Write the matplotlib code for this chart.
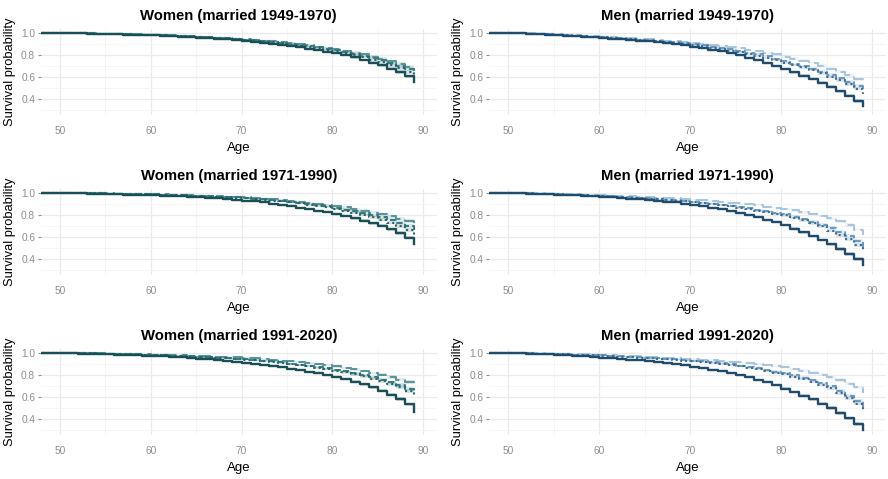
import numpy as np
import matplotlib.pyplot as plt

plt.rcParams['font.family'] = ['Liberation Sans', 'DejaVu Sans']

ages = list(range(48, 90))

# women, married 1949-1970
w1_solid = [1.000,.999,.998,.997,.995,.993,.991,.989,.987,.985,.983,.981,.978,
            .975,.971,.967,.962,.957,.952,.947,.941,.935,.928,
            .920,.912,.903,.892,.880,.868,.856,.843,.829,.815,
            .797,.777,.755,.731,.705,.676,.644,.605,.557]
w1_dot = [1.000,.999,.998,.997,.996,.994,.992,.990,.988,.986,.984,.982,.980,
          .977,.974,.970,.966,.962,.957,.952,.947,.941,.935,
          .928,.921,.913,.904,.894,.884,.873,.861,.848,.835,
          .818,.800,.780,.758,.735,.708,.680,.648,.612]
w1_dash = [1.000,.999,.998,.997,.996,.995,.993,.991,.989,.987,.985,.984,.982,
           .979,.976,.973,.969,.965,.961,.956,.951,.946,.940,
           .933,.926,.918,.910,.901,.891,.881,.870,.858,.845,
           .829,.812,.794,.773,.751,.727,.701,.672,.640]
w1_long = [1.000,.999,.998,.997,.996,.995,.994,.992,.990,.988,.987,.985,.983,
           .980,.977,.974,.970,.966,.962,.958,.953,.948,.942,
           .936,.929,.922,.914,.906,.897,.887,.876,.864,.852,
           .837,.821,.804,.785,.765,.742,.717,.689,.658]

# women, married 1971-1990
w2_solid = [1.000,.999,.998,.997,.995,.993,.991,.989,.987,.985,.983,.981,.978,
            .975,.972,.968,.964,.960,.955,.950,.944,.937,.930,
            .922,.913,.903,.892,.880,.867,.854,.840,.825,.810,
            .791,.770,.748,.725,.700,.670,.636,.595,.532]
w2_dot = [1.000,1.000,.999,.998,.997,.996,.995,.994,.992,.991,.989,.987,.985,
          .983,.980,.977,.974,.971,.967,.963,.959,.955,.950,
          .944,.937,.930,.922,.913,.904,.894,.884,.870,.855,
          .838,.820,.801,.780,.757,.730,.700,.662,.615]
w2_dash = [1.000,1.000,.999,.998,.997,.996,.995,.994,.993,.991,.990,.988,.986,
           .984,.982,.979,.976,.973,.970,.967,.963,.959,.955,
           .949,.943,.936,.928,.920,.911,.901,.890,.878,.865,
           .849,.832,.815,.798,.780,.757,.731,.701,.665]
w2_long = [1.000,1.000,.999,.998,.997,.997,.996,.995,.994,.993,.991,.990,.988,
           .986,.984,.982,.979,.976,.973,.970,.967,.964,.960,
           .955,.949,.943,.936,.929,.921,.912,.903,.893,.882,
           .868,.853,.838,.822,.805,.786,.765,.742,.715]

# women, married 1991-2020
w3_solid = [1.000,.999,.998,.996,.994,.992,.990,.988,.985,.982,.979,.976,.972,
            .968,.964,.959,.954,.948,.942,.935,.927,.919,.910,
            .901,.891,.880,.868,.856,.843,.829,.814,.798,.782,
            .762,.740,.716,.688,.657,.622,.583,.532,.465]
w3_dot = [1.000,.999,.998,.997,.996,.995,.993,.991,.989,.987,.985,.983,.980,
          .977,.974,.971,.967,.963,.959,.955,.950,.945,.940,
          .934,.927,.919,.910,.900,.890,.879,.867,.854,.840,
          .824,.806,.787,.767,.745,.719,.690,.655,.607]
w3_dash = [1.000,.999,.998,.997,.996,.995,.993,.992,.990,.988,.986,.984,.981,
           .978,.975,.972,.968,.964,.960,.956,.952,.948,.943,
           .937,.930,.922,.913,.903,.893,.882,.870,.859,.848,
           .832,.815,.797,.778,.758,.734,.707,.672,.627]
w3_long = [1.000,1.000,.999,.998,.997,.996,.995,.994,.993,.991,.989,.987,.985,
           .983,.980,.977,.974,.971,.968,.965,.962,.959,.955,
           .950,.944,.938,.931,.923,.915,.906,.897,.887,.877,
           .864,.850,.835,.818,.800,.780,.758,.733,.705]

# men, married 1949-1970
m1_solid = [1.000,.999,.997,.995,.992,.989,.985,.981,.976,.971,.966,.961,.955,
            .949,.943,.937,.931,.924,.916,.907,.897,.886,.875,
            .862,.848,.832,.814,.795,.774,.752,.727,.700,.670,
            .642,.612,.581,.547,.510,.471,.430,.385,.338]
m1_dot = [1.000,.999,.998,.996,.993,.990,.987,.983,.979,.975,.970,.965,.960,
          .955,.949,.943,.937,.930,.923,.915,.907,.899,.890,
          .879,.867,.854,.840,.825,.809,.792,.773,.752,.730,
          .708,.686,.662,.634,.603,.570,.534,.494,.448]
m1_dash = [1.000,.999,.998,.996,.994,.991,.988,.984,.980,.976,.972,.967,.962,
           .957,.952,.946,.940,.934,.927,.920,.913,.905,.897,
           .887,.876,.864,.851,.837,.822,.805,.786,.765,.742,
           .720,.698,.674,.647,.618,.587,.553,.515,.472]
m1_long = [1.000,.999,.998,.997,.995,.992,.989,.986,.983,.979,.975,.971,.966,
           .962,.957,.952,.947,.941,.935,.929,.923,.917,.910,
           .902,.893,.883,.872,.861,.849,.836,.822,.804,.785,
           .766,.747,.726,.702,.676,.647,.615,.578,.537]

# men, married 1971-1990
m2_solid = [1.000,.999,.998,.996,.994,.991,.988,.985,.981,.977,.973,.969,.965,
            .960,.955,.949,.943,.936,.929,.921,.913,.902,.890,
            .878,.865,.851,.835,.818,.799,.779,.757,.733,.707,
            .675,.643,.609,.572,.532,.490,.445,.398,.348]
m2_dot = [1.000,.999,.998,.997,.995,.993,.990,.987,.984,.981,.978,.974,.970,
          .966,.962,.957,.952,.947,.941,.935,.929,.922,.915,
          .907,.898,.888,.877,.865,.852,.838,.823,.810,.795,
          .773,.750,.725,.695,.655,.618,.577,.530,.478]
m2_dash = [1.000,.999,.998,.997,.995,.993,.991,.988,.985,.982,.979,.976,.972,
           .968,.964,.960,.955,.950,.945,.939,.933,.927,.920,
           .912,.903,.893,.882,.871,.859,.847,.834,.820,.805,
           .785,.763,.739,.713,.683,.648,.609,.562,.510]
m2_long = [1.000,1.000,.999,.998,.997,.995,.993,.991,.989,.987,.984,.981,.978,
           .975,.972,.969,.966,.962,.958,.954,.950,.945,.940,
           .934,.927,.920,.912,.904,.895,.886,.876,.866,.855,
           .841,.825,.808,.790,.768,.741,.710,.667,.615]

# men, married 1991-2020
m3_solid = [1.000,.999,.997,.995,.992,.989,.986,.982,.978,.973,.968,.963,.958,
            .952,.946,.939,.932,.924,.916,.907,.897,.886,.875,
            .862,.848,.833,.817,.800,.780,.758,.734,.706,.676,
            .644,.611,.577,.540,.500,.455,.406,.352,.298]
m3_dot = [1.000,.999,.998,.997,.995,.993,.991,.989,.986,.983,.980,.978,.975,
          .971,.967,.963,.958,.953,.948,.943,.937,.931,.925,
          .917,.909,.899,.889,.878,.866,.852,.838,.822,.805,
          .785,.763,.739,.711,.678,.637,.591,.540,.482]
m3_dash = [1.000,.999,.998,.997,.995,.994,.992,.990,.987,.985,.982,.980,.977,
           .973,.969,.965,.961,.956,.951,.946,.941,.936,.930,
           .923,.915,.906,.896,.885,.873,.860,.846,.831,.815,
           .796,.775,.752,.727,.695,.656,.612,.560,.495]
m3_long = [1.000,1.000,.999,.998,.997,.996,.994,.992,.990,.988,.986,.984,.982,
           .979,.976,.972,.968,.964,.960,.956,.953,.949,.945,
           .940,.934,.928,.921,.913,.905,.897,.889,.880,.870,
           .855,.840,.822,.803,.780,.753,.722,.686,.635]

# half width of the shaded confidence band
ci_half = [0,0,0,0,0,0,0,.001,.001,.001,.002,.002,.002,
           .003,.003,.003,.004,.004,.004,.005,.005,.005,.006,
           .006,.007,.007,.008,.008,.008,.009,.009,.010,.010,
           .011,.012,.012,.013,.014,.015,.016,.017,.018]

titles = ['Women (married 1949-1970)', 'Men (married 1949-1970)',
          'Women (married 1971-1990)', 'Men (married 1971-1990)',
          'Women (married 1991-2020)', 'Men (married 1991-2020)']
panels = [[w1_solid, w1_dot, w1_dash, w1_long], [m1_solid, m1_dot, m1_dash, m1_long],
          [w2_solid, w2_dot, w2_dash, w2_long], [m2_solid, m2_dot, m2_dash, m2_long],
          [w3_solid, w3_dot, w3_dash, w3_long], [m3_solid, m3_dot, m3_dash, m3_long]]

women_cols = ['#1b4f57', '#28666e', '#3a7b82', '#5c9599']
men_cols = ['#1f4c6c', '#3d6d93', '#6c9abf', '#a9c6de']
styles = ['-', (0, (1, 1.5)), (0, (3, 1.5)), (0, (6, 2.5))]

fig = plt.figure(figsize=(8.88, 4.79), dpi=100)
W, H = 888, 479
lefts = [40.8, 489]
widths = [396, 397]
bottoms = [115, 275, 435]

for i, title in enumerate(titles):
    row, col = i // 2, i % 2
    ax = fig.add_axes([lefts[col] / W, 1 - bottoms[row] / H, widths[col] / W, 86 / H])
    cols = women_cols if col == 0 else men_cols
    for k, ser in enumerate(panels[i]):
        s = np.array(ser)
        hw = np.array(ci_half)
        ax.fill_between(ages, s - hw, s + hw, step='post', color=cols[k], alpha=0.18, lw=0)
        ax.step(ages, s, where='post', color=cols[k], ls=styles[k], lw=1.7 if k == 0 else 1.5,
                zorder=3 + (3 - k))
    ax.set_xlim(47.9, 91.5)
    ax.set_ylim(0.2545, 1.0355)
    ax.set_xticks([50, 60, 70, 80, 90])
    ax.set_xticks([55, 65, 75, 85], minor=True)
    ax.set_yticks([0.4, 0.6, 0.8, 1.0])
    ax.set_yticks([0.3, 0.5, 0.7, 0.9], minor=True)
    ax.set_yticklabels(['0.4', '0.6', '0.8', '1.0'])
    ax.grid(which='major', color='#ebebeb', lw=0.9)
    ax.grid(which='minor', color='#f4f4f4', lw=0.6)
    ax.set_axisbelow(True)
    for sp in ax.spines.values():
        sp.set_visible(False)
    ax.tick_params(axis='x', which='both', length=0, pad=8, labelsize=7.3, labelcolor='#8f8f8f')
    ax.tick_params(axis='y', which='major', length=2.5, width=0.8, color='#8f8f8f', pad=1.5,
                   labelsize=7.3, labelcolor='#8f8f8f')
    ax.tick_params(axis='y', which='minor', length=0)
    ax.set_title(title, fontsize=10.7, fontweight='bold', pad=6.5)
    ax.set_xlabel('Age', fontsize=9.5, labelpad=4)
    ax.set_ylabel('Survival probability', fontsize=9.3, labelpad=4)

fig.savefig('out.png', dpi=100)
